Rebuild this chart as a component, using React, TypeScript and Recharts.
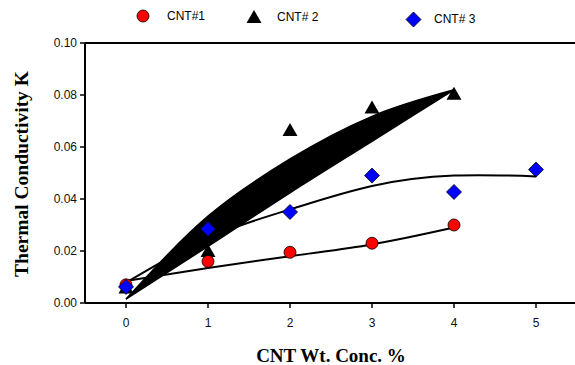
import React from 'react';
import {
    ComposedChart,
    Line,
    Area,
    Scatter,
    XAxis,
    YAxis,
    ReferenceLine,
} from 'recharts';

// measured points
const concX = [0, 1, 2, 3, 4, 5];
const cnt1 = [0.007, 0.016, 0.0195, 0.023, 0.03];
const cnt2 = [0.006, 0.02, 0.0665, 0.0752, 0.0805];
const cnt3 = [0.0062, 0.0285, 0.035, 0.049, 0.0427, 0.0513];

// fitted curves at the integer concentrations
const fit1 = [0.0085, 0.0135, 0.018, 0.0225, 0.029];
const fit2Low = [0.0015, 0.0218, 0.0424, 0.0622, 0.082];
const fit2High = [0.0015, 0.0334, 0.0554, 0.0718, 0.082];
const fit3 = [0.0078, 0.025, 0.036, 0.045, 0.049, 0.0487];

const xTicks = [0, 1, 2, 3, 4, 5];
const yTicks = [0, 0.02, 0.04, 0.06, 0.08, 0.1];

const toPoints = (vals: number[]) => vals.map((y, i) => ({ x: concX[i], y }));

const pts1 = toPoints(cnt1);
const pts2 = toPoints(cnt2);
const pts3 = toPoints(cnt3);
const line1 = toPoints(fit1);
const line3 = toPoints(fit3);
const band2 = fit2Low.map((lo, i) => ({ x: concX[i], range: [lo, fit2High[i]] }));

const RedDot = (p: any) => (
    <circle cx={p.cx} cy={p.cy} r={6} fill="#ff0000" stroke="#000" strokeWidth={0.8} />
);
const BlackTri = (p: any) => (
    <polygon
        points={`${p.cx},${p.cy - 7} ${p.cx - 7.5},${p.cy + 6} ${p.cx + 7.5},${p.cy + 6}`}
        fill="#000"
    />
);
const BlueDiamond = (p: any) => (
    <polygon
        points={`${p.cx},${p.cy - 7.5} ${p.cx + 7.5},${p.cy} ${p.cx},${p.cy + 7.5} ${p.cx - 7.5},${p.cy}`}
        fill="#0000ff"
        stroke="#000"
        strokeWidth={0.8}
    />
);

const tickStyle = { fill: '#111', fontSize: 12, fontFamily: 'Liberation Sans, Arial, sans-serif' };
const titleFont = 'Liberation Serif, Times New Roman, serif';

const legendItem: React.CSSProperties = {
    position: 'absolute',
    fontFamily: 'Liberation Sans, Arial, sans-serif',
    fontSize: 12,
    color: '#000',
    lineHeight: '14px',
};

const App = () => {
    return (
        <div style={{ position: 'absolute', left: 0, top: 0, width: 577, height: 365, background: '#fff' }}>
            <ComposedChart
                width={577}
                height={365}
                margin={{ top: 43, right: 0, bottom: 0, left: 0 }}
            >
                <XAxis
                    dataKey="x"
                    type="number"
                    domain={[-0.5, 5.5]}
                    ticks={xTicks}
                    height={62}
                    axisLine={{ stroke: '#000', strokeWidth: 2 }}
                    tickLine={{ stroke: '#000', strokeWidth: 1.5 }}
                    tickSize={5}
                    tickMargin={10}
                    tick={tickStyle}
                    allowDataOverflow
                    label={{
                        value: 'CNT Wt. Conc. %',
                        position: 'insideBottom',
                        offset: 3,
                        style: { fontFamily: titleFont, fontWeight: 'bold', fontSize: 19, fill: '#000' },
                    }}
                />
                <YAxis
                    type="number"
                    domain={[0, 0.1]}
                    ticks={yTicks}
                    width={85}
                    axisLine={{ stroke: '#000', strokeWidth: 2 }}
                    tickLine={{ stroke: '#000', strokeWidth: 1.5 }}
                    tickSize={5}
                    tickMargin={3}
                    tick={tickStyle}
                    tickFormatter={(v: number) => v.toFixed(2)}
                    allowDataOverflow
                    label={{
                        content: () => (
                            <text
                                transform="translate(28,174) rotate(-90)"
                                textAnchor="middle"
                                fontFamily={titleFont}
                                fontWeight="bold"
                                fontSize={19.5}
                                fill="#000"
                            >
                                Thermal Conductivity K
                            </text>
                        ),
                    }}
                />
                <ReferenceLine y={0.1} stroke="#000" strokeWidth={2} />
                <Area
                    data={band2}
                    dataKey="range"
                    type="monotone"
                    fill="#000"
                    fillOpacity={1}
                    stroke="#000"
                    strokeWidth={1.5}
                    isAnimationActive={false}
                />
                <Line
                    data={line1}
                    dataKey="y"
                    type="monotone"
                    stroke="#000"
                    strokeWidth={2}
                    dot={false}
                    activeDot={false}
                    isAnimationActive={false}
                />
                <Line
                    data={line3}
                    dataKey="y"
                    type="natural"
                    stroke="#000"
                    strokeWidth={2}
                    dot={false}
                    activeDot={false}
                    isAnimationActive={false}
                />
                <Scatter data={pts2} dataKey="y" shape={BlackTri} isAnimationActive={false} />
                <Scatter data={pts1} dataKey="y" shape={RedDot} isAnimationActive={false} />
                <Scatter data={pts3} dataKey="y" shape={BlueDiamond} isAnimationActive={false} />
            </ComposedChart>

            <svg style={{ position: 'absolute', left: 136, top: 9 }} width={14} height={14}>
                <circle cx={7} cy={7} r={6} fill="#ff0000" stroke="#000" strokeWidth={0.8} />
            </svg>
            <div style={{ ...legendItem, left: 167, top: 9 }}>CNT#1</div>
            <svg style={{ position: 'absolute', left: 246, top: 9 }} width={16} height={15}>
                <polygon points="8,1 0.5,14 15.5,14" fill="#000" />
            </svg>
            <div style={{ ...legendItem, left: 277, top: 10 }}>CNT# 2</div>
            <svg style={{ position: 'absolute', left: 405, top: 11 }} width={17} height={17}>
                <polygon points="8.5,1 16,8.5 8.5,16 1,8.5" fill="#0000ff" stroke="#000" strokeWidth={0.8} />
            </svg>
            <div style={{ ...legendItem, left: 434, top: 12 }}>CNT# 3</div>
        </div>
    );
};

export default App;
